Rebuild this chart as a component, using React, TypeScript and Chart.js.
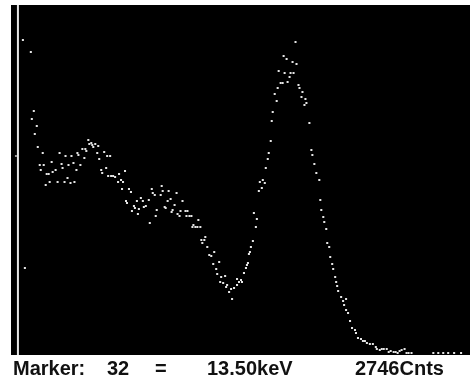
import React, { useEffect, useRef } from "react";
import { Chart, registerables } from "chart.js";

Chart.register(...registerables);

// Spectrum: channel index and counts
const channels: number[] = [
  12, 14, 20, 21, 23, 24, 26, 27, 29, 30, 32, 33, 35, 36, 38, 39, 41, 42, 45, 47,
  49, 51, 52, 54, 55, 57, 58, 60, 61, 63, 64, 66, 67, 68, 70, 72, 74, 75, 76, 78,
  79, 81, 82, 83, 85, 87, 88, 89, 91, 92, 94, 96, 97, 98, 100, 101, 103, 105, 108, 109,
  111, 112, 113, 115, 116, 117, 119, 121, 122, 124, 125, 127, 128, 129, 131, 133, 134, 136, 139, 140,
  142, 143, 145, 146, 147, 151, 152, 153, 155, 156, 158, 159, 161, 162, 163, 165, 167, 168, 170, 171,
  173, 176, 177, 178, 180, 182, 183, 184, 186, 188, 189, 191, 192, 193, 195, 196, 198, 200, 202, 204,
  205, 207, 208, 210, 211, 212, 214, 216, 217, 218, 220, 222, 223, 225, 228, 228, 230, 232, 233, 235,
  237, 238, 239, 240, 241, 242, 244, 245, 247, 248, 250, 251, 253, 254, 256, 257, 259, 260, 262, 263,
  264, 266, 268, 269, 270, 272, 274, 275, 276, 278, 279, 281, 282, 284, 285, 287, 288, 290, 291, 293,
  294, 296, 297, 298, 301, 303, 304, 306, 308, 311, 312, 313, 315, 316, 318, 319, 321, 322, 324, 325,
  327, 328, 329, 330, 333, 335, 336, 338, 338, 340, 342, 344, 347, 348, 350, 353, 355, 357, 359, 362,
  365, 368, 369, 372, 374, 376, 379, 381, 383, 386, 388, 390, 392, 394, 397, 399, 401, 404, 426, 431,
  436, 441, 447, 454,
];

const counts: number[] = [
  3150, 870, 3030, 2360, 2440, 2210, 2290, 2080, 1900, 1850, 2020, 1900, 1700, 1810, 1810, 1730, 1930, 1830, 1850, 1730,
  2020, 1910, 1870, 1730, 1990, 1770, 1900, 1720, 1990, 1920, 1730, 1850, 2020, 2000, 1900, 2060, 1970, 2060, 2040, 2150,
  2110, 2120, 2100, 2080, 2110, 2020, 2090, 1960, 1850, 1820, 2030, 1870, 1990, 1790, 1990, 1790, 1790, 1780, 1730, 1810,
  1750, 1660, 1730, 1840, 1540, 1520, 1660, 1630, 1440, 1490, 1470, 1540, 1410, 1460, 1570, 1540, 1480, 1490, 1550, 1320,
  1660, 1620, 1600, 1390, 1450, 1600, 1690, 1640, 1480, 1470, 1540, 1640, 1560, 1430, 1450, 1500, 1620, 1410, 1390, 1440,
  1540, 1440, 1390, 1440, 1390, 1390, 1280, 1300, 1280, 1280, 1350, 1280, 1150, 1120, 1150, 1180, 1080, 1000, 990, 910,
  1030, 860, 810, 930, 730, 780, 720, 790, 680, 700, 630, 660, 560, 670, 700, 760, 730, 750, 730, 820,
  870, 900, 920, 1010, 1030, 1080, 1140, 1420, 1280, 1360, 1640, 1730, 1670, 1750, 1720, 1870, 1960, 2020, 2140, 2340,
  2430, 2610, 2540, 2670, 2840, 2720, 2720, 2990, 2820, 2960, 2730, 2780, 2820, 2930, 2820, 3130, 2910, 2700, 2670, 2580,
  2630, 2500, 2560, 2520, 2320, 2050, 2000, 1910, 1820, 1750, 1550, 1450, 1380, 1330, 1260, 1120, 1080, 980, 910, 860,
  780, 730, 690, 640, 580, 540, 500, 560, 450, 420, 340, 270, 250, 220, 170, 160, 140, 140, 120, 110,
  110, 80, 60, 50, 60, 60, 60, 30, 40, 30, 30, 20, 40, 50, 60, 20, 20, 20, 20, 20,
  20, 20, 20, 20,
];

const channelRange: number[] = [0, 463];
const countRange: number[] = [0, 3500];
const axisLineChannel = 7;
const tickCount = 1990;

const markerLabel = "Marker:";
const markerChannel = "32";
const markerEq = "=";
const markerEnergy = "13.50keV";
const markerCounts = "2746Cnts";

const screenPlugin = {
  id: "screen",
  beforeDraw(chart: any) {
    const { ctx, chartArea } = chart;
    ctx.save();
    ctx.fillStyle = "#000";
    ctx.fillRect(chartArea.left, chartArea.top, chartArea.right - chartArea.left, chartArea.bottom - chartArea.top);
    const xs = chart.scales.x;
    const ys = chart.scales.y;
    const lx = xs.getPixelForValue(axisLineChannel);
    ctx.strokeStyle = "#e6e6e6";
    ctx.lineWidth = 2;
    ctx.beginPath();
    ctx.moveTo(lx, chartArea.top);
    ctx.lineTo(lx, chartArea.bottom);
    ctx.stroke();
    ctx.fillStyle = "#9a9a9a";
    const ty = ys.getPixelForValue(tickCount);
    ctx.fillRect(lx - 3, ty - 1, 2, 2);
    ctx.restore();
  },
};

export default function App() {
  const ref = useRef<HTMLCanvasElement>(null);
  useEffect(() => {
    if (!ref.current) return;
    const data = channels.map((c, i) => ({ x: c, y: counts[i] }));
    const chart = new Chart(ref.current, {
      type: "scatter",
      data: {
        datasets: [
          {
            data,
            pointRadius: 1.45,
            pointStyle: "rect",
            backgroundColor: "#e4e4e4",
            borderWidth: 0,
          },
        ],
      },
      options: {
        animation: false,
        responsive: false,
        devicePixelRatio: 1,
        layout: { padding: { left: 11, top: 5, right: 0, bottom: 26 } },
        plugins: { legend: { display: false }, tooltip: { enabled: false } },
        scales: {
          x: { type: "linear", display: false, min: channelRange[0], max: channelRange[1] },
          y: { type: "linear", display: false, min: countRange[0], max: countRange[1] },
        },
      },
      plugins: [screenPlugin],
    });
    return () => chart.destroy();
  }, []);

  const textStyle: React.CSSProperties = {
    position: "absolute",
    top: 358,
    font: "bold 20px 'Liberation Sans', Arial, sans-serif",
    lineHeight: "20px",
    color: "#111",
    whiteSpace: "nowrap",
  };

  return (
    <div style={{ position: "fixed", left: 0, top: 0, width: 474, height: 381, background: "#fff", overflow: "hidden" }}>
      <canvas ref={ref} width={474} height={381} style={{ position: "absolute", left: 0, top: 0 }} />
      <span style={{ ...textStyle, left: 13 }}>{markerLabel}</span>
      <span style={{ ...textStyle, left: 107 }}>{markerChannel}</span>
      <span style={{ ...textStyle, left: 155 }}>{markerEq}</span>
      <span style={{ ...textStyle, left: 207 }}>{markerEnergy}</span>
      <span style={{ ...textStyle, left: 355 }}>{markerCounts}</span>
    </div>
  );
}
